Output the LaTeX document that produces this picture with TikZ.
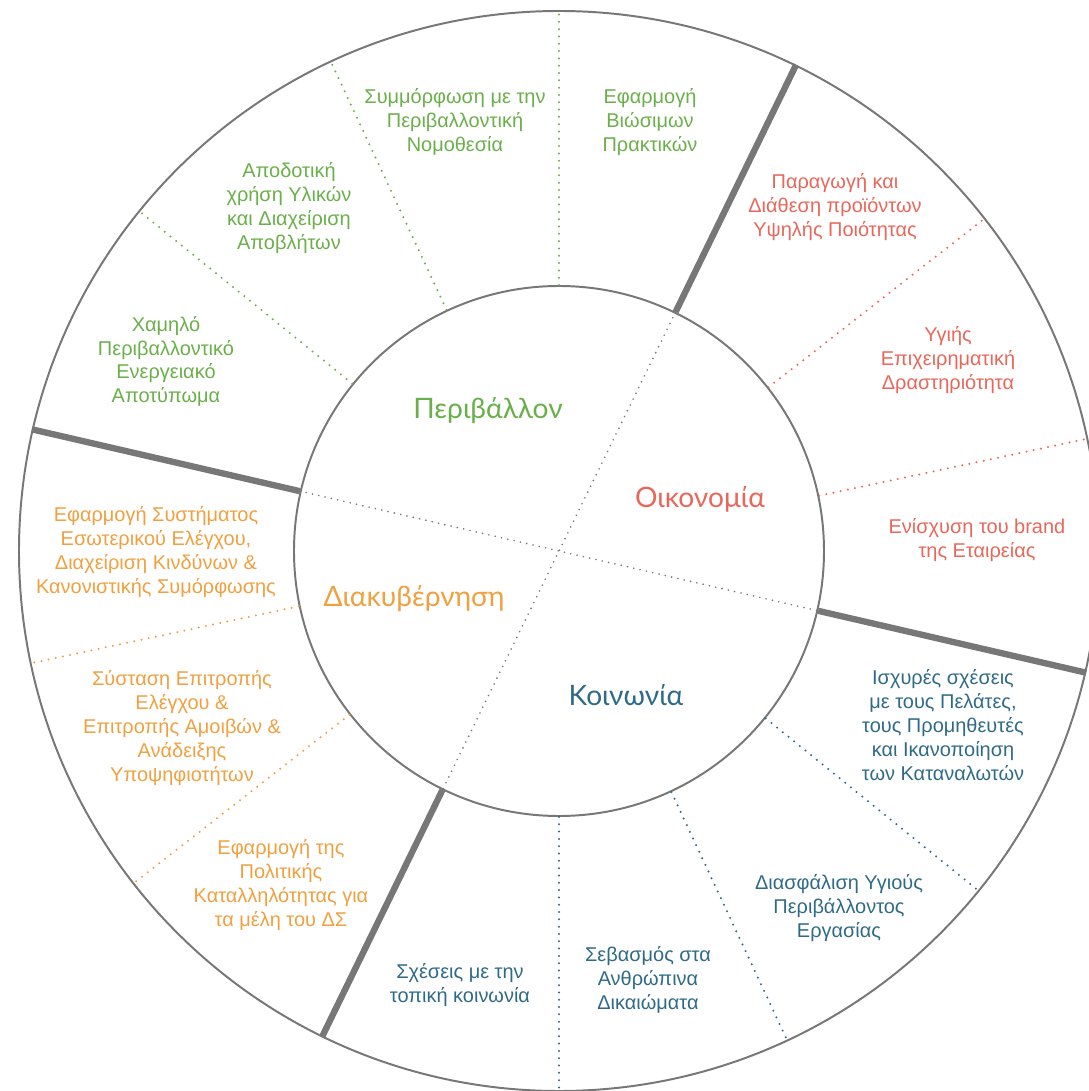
\documentclass[tikz,border=0pt]{standalone}
\usepackage{fontspec}
\setmainfont{Liberation Sans}
\newfontfamily\pillarfont{Lato}
\usepackage{xcolor}
\definecolor{envGreen}{RGB}{106,175,74}
\definecolor{ecoRed}{RGB}{232,103,90}
\definecolor{socBlue}{RGB}{47,107,135}
\definecolor{govOrange}{RGB}{240,160,64}
\definecolor{wheelGrey}{RGB}{119,119,119}
\tikzset{
    every node/.append style={align=center},
    ring/.style={circle,draw=wheelGrey,line width=1.4pt,inner sep=0pt},
    divider/.style={draw=wheelGrey,line width=4.5pt},
    subdiv/.style={line width=1.6pt,line cap=round,dash pattern=on 0pt off 5.2pt},
    hubdiv/.style={draw=wheelGrey,line width=1.3pt,line cap=round,dash pattern=on 0pt off 4.6pt},
    topic/.style={font=\fontsize{14.2}{17}\selectfont,inner sep=1pt},
    pillar/.style={font=\pillarfont\fontsize{20}{24}\selectfont,inner sep=1pt}
}
\begin{document}
\begin{tikzpicture}
    \useasboundingbox (-13.975,-13.5) rectangle (13.25,13.775);
    \node[ring,minimum size=27cm]    (rim) at (0,0) {};
    \node[ring,minimum size=13.25cm] (hub) at (0,0) {};

    \foreach \k/\col in {0/envGreen,1/envGreen,2/envGreen,4/govOrange,5/govOrange,
        7/socBlue,8/socBlue,9/socBlue,11/ecoRed,12/ecoRed} {
        \pgfmathsetmacro\ang{90+\k*360/14}
        \draw[subdiv,draw=\col] (hub.\ang) -- (rim.\ang);
    }
    \draw[hubdiv] (hub.64.2857) -- (hub.244.2857);
    \draw[hubdiv] (hub.167.1429) -- (hub.347.1429);
    \foreach \k in {-1,3,6,10} {
        \pgfmathsetmacro\ang{90+\k*360/14}
        \draw[divider] (hub.\ang) -- (rim.\ang);
    }

    \node[pillar,text=envGreen]  (envhub) at (-1.775, 3.5)  {Περιβάλλον};
    \node[pillar,text=ecoRed]    (ecohub) at ( 3.525, 1.3)  {Οικονομία};
    \node[pillar,text=socBlue]   (sochub) at ( 1.675,-3.6)  {Κοινωνία};
    \node[pillar,text=govOrange] (govhub) at (-3.625,-1.2)  {Διακυβέρνηση};

    \node[topic,text=envGreen] (env1) at ( 2.275,10.725) {Εφαρμογή\\Βιώσιμων\\Πρακτικών};
    \node[topic,text=envGreen] (env2) at (-2.6,  10.725) {Συμμόρφωση με την\\Περιβαλλοντική\\Νομοθεσία};
    \node[topic,text=envGreen] (env3) at (-6.75,  8.575) {Αποδοτική\\χρήση Υλικών\\και Διαχείριση\\Αποβλήτων};
    \node[topic,text=envGreen] (env4) at (-9.825, 4.74)  {Χαμηλό\\Περιβαλλοντικό\\Ενεργειακό\\Αποτύπωμα};

    \node[topic,text=ecoRed] (eco1) at ( 6.9,  8.6)  {Παραγωγή και\\Διάθεση προϊόντων\\Υψηλής Ποιότητας};
    \node[topic,text=ecoRed] (eco2) at ( 9.725,4.775) {Υγιής\\Επιχειρηματική\\Δραστηριότητα};
    \node[topic,text=ecoRed] (eco3) at (10.45, 0.275) {Ενίσχυση του brand\\της Εταιρείας};

    \node[topic,text=socBlue] (soc1) at ( 9.6,  -4.35)  {Ισχυρές σχέσεις\\με τους Πελάτες,\\τους Προμηθευτές\\και Ικανοποίηση\\των Καταναλωτών};
    \node[topic,text=socBlue] (soc2) at ( 7.0,  -8.925) {Διασφάλιση Υγιούς\\Περιβάλλοντος\\Εργασίας};
    \node[topic,text=socBlue] (soc3) at ( 2.225,-10.725) {Σεβασμός στα\\Ανθρώπινα\\Δικαιώματα};
    \node[topic,text=socBlue] (soc4) at (-2.475,-10.85)  {Σχέσεις με την\\τοπική κοινωνία};

    \node[topic,text=govOrange] (gov1) at (-10.075,-0.025) {Εφαρμογή Συστήματος\\Εσωτερικού Ελέγχου,\\Διαχείριση Κινδύνων \&\\Κανονιστικής Συμόρφωσης};
    \node[topic,text=govOrange] (gov2) at (-9.425, -4.425) {Σύσταση Επιτροπής\\Ελέγχου \&\\Επιτροπής Αμοιβών \&\\Ανάδειξης\\Υποψηφιοτήτων};
    \node[topic,text=govOrange] (gov3) at (-6.95,  -8.35)  {Εφαρμογή της\\Πολιτικής\\Καταλληλότητας για\\τα μέλη του ΔΣ};
\end{tikzpicture}
\end{document}
